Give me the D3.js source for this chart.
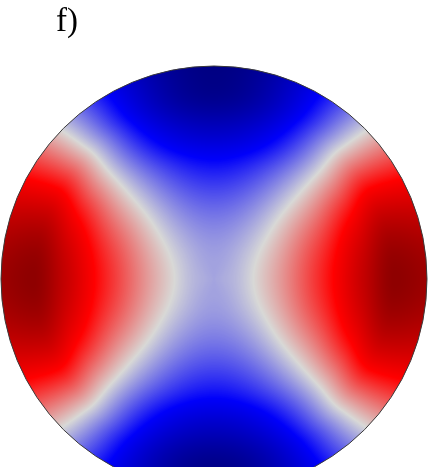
<!DOCTYPE html>
<html>
<head>
<meta charset="utf-8">
<script src="https://cdn.jsdelivr.net/npm/d3@7"></script>
<style>
  html, body { margin: 0; padding: 0; background: #ffffff; }
  #wrap { position: relative; width: 431px; height: 467px; overflow: hidden; }
  #wrap canvas, #wrap svg { position: absolute; left: 0; top: 0; }
</style>
</head>
<body>
<div id="wrap"></div>
<script>
// Normalised radius at which the field profiles are sampled (0 = centre, 1 = rim)
const radius = [0, 0.1, 0.18, 0.3, 0.45, 0.56, 0.7, 0.85, 1.0];
// Field value along the horizontal diameter (towards left/right rim)
const alongX = [-0.12, -0.075, -0.005, 0.13, 0.34, 0.5, 0.75, 0.98, 0.92];
// Field value along the vertical diameter (towards top/bottom rim)
const alongY = [-0.12, -0.13, -0.155, -0.23, -0.37, -0.5, -0.72, -0.92, -0.97];
// Diverging "wave" colour map
const levels = [-1, -0.5, 0, 0.5, 1];
const levelColors = ["#00007a", "#0000fa", "#d8d8d6", "#ff0000", "#8a0000"];
const panelLabel = "f)";

const W = 431, H = 467;
const cx = 214, cy = 279, R = 213;

const xScale = d3.scaleLinear().domain([-1, 1]).range([cx - R, cx + R]);
const yScale = d3.scaleLinear().domain([-1, 1]).range([cy - R, cy + R]);
const color = d3.scaleLinear().domain(levels).range(levelColors)
  .interpolate(d3.interpolateRgb).clamp(true);

// Monotone cubic (Fritsch–Carlson) through the sampled profile
function monotone(xs, ys) {
  const n = xs.length, d = [], m = new Array(n);
  for (let i = 0; i < n - 1; i++) d.push((ys[i + 1] - ys[i]) / (xs[i + 1] - xs[i]));
  m[0] = d[0]; m[n - 1] = d[n - 2];
  for (let i = 1; i < n - 1; i++) m[i] = d[i - 1] * d[i] <= 0 ? 0 : (d[i - 1] + d[i]) / 2;
  for (let i = 0; i < n - 1; i++) {
    if (d[i] === 0) { m[i] = m[i + 1] = 0; continue; }
    const a = m[i] / d[i], b = m[i + 1] / d[i], s = a * a + b * b;
    if (s > 9) { const t = 3 / Math.sqrt(s); m[i] = t * a * d[i]; m[i + 1] = t * b * d[i]; }
  }
  return function (x) {
    if (x <= xs[0]) return ys[0];
    if (x >= xs[n - 1]) return ys[n - 1];
    let i = d3.bisectRight(xs, x) - 1;
    const h = xs[i + 1] - xs[i], t = (x - xs[i]) / h;
    const t2 = t * t, t3 = t2 * t;
    return (2 * t3 - 3 * t2 + 1) * ys[i] + (t3 - 2 * t2 + t) * h * m[i]
         + (-2 * t3 + 3 * t2) * ys[i + 1] + (t3 - t2) * h * m[i + 1];
  };
}
const fx = monotone(radius, alongX);
const fy = monotone(radius, alongY);

// Colour lookup table
const LUT = 1024;
const lut = new Uint8ClampedArray(LUT * 3);
for (let k = 0; k < LUT; k++) {
  const c = d3.rgb(color(-1 + 2 * k / (LUT - 1)));
  lut[3 * k] = c.r; lut[3 * k + 1] = c.g; lut[3 * k + 2] = c.b;
}

const wrap = d3.select("#wrap");
const canvas = wrap.append("canvas").attr("width", W).attr("height", H).node();
const ctx = canvas.getContext("2d");

// Field raster
const off = document.createElement("canvas");
off.width = W; off.height = H;
const octx = off.getContext("2d");
const img = octx.createImageData(W, H);
for (let py = 0; py < H; py++) {
  const v = yScale.invert(py + 0.5);
  for (let px = 0; px < W; px++) {
    const u = xScale.invert(px + 0.5);
    const r2 = u * u + v * v;
    const r = Math.sqrt(r2);
    if (r > 1.01) continue;
    const c2 = r2 > 1e-12 ? u * u / r2 : 0.5; // cos^2 of polar angle
    const f = fx(r) * c2 + fy(r) * (1 - c2);
    let k = Math.round((f + 1) / 2 * (LUT - 1));
    k = Math.max(0, Math.min(LUT - 1, k));
    const o = 4 * (py * W + px);
    img.data[o] = lut[3 * k]; img.data[o + 1] = lut[3 * k + 1];
    img.data[o + 2] = lut[3 * k + 2]; img.data[o + 3] = 255;
  }
}
octx.putImageData(img, 0, 0);

// Clip raster to the disc
ctx.save();
ctx.beginPath();
ctx.arc(cx, cy, R, 0, 2 * Math.PI);
ctx.clip();
ctx.drawImage(off, 0, 0);
ctx.restore();

const svg = wrap.append("svg").attr("width", W).attr("height", H);
svg.append("circle")
  .attr("cx", xScale(0)).attr("cy", yScale(0))
  .attr("r", xScale(1) - xScale(0))
  .attr("fill", "none").attr("stroke", "#3a3a3a").attr("stroke-width", 1);
svg.append("text")
  .attr("x", 56).attr("y", 31)
  .attr("font-family", "'Liberation Serif', 'Times New Roman', serif")
  .attr("font-size", 33).attr("fill", "#000")
  .text(panelLabel);
</script>
</body>
</html>
